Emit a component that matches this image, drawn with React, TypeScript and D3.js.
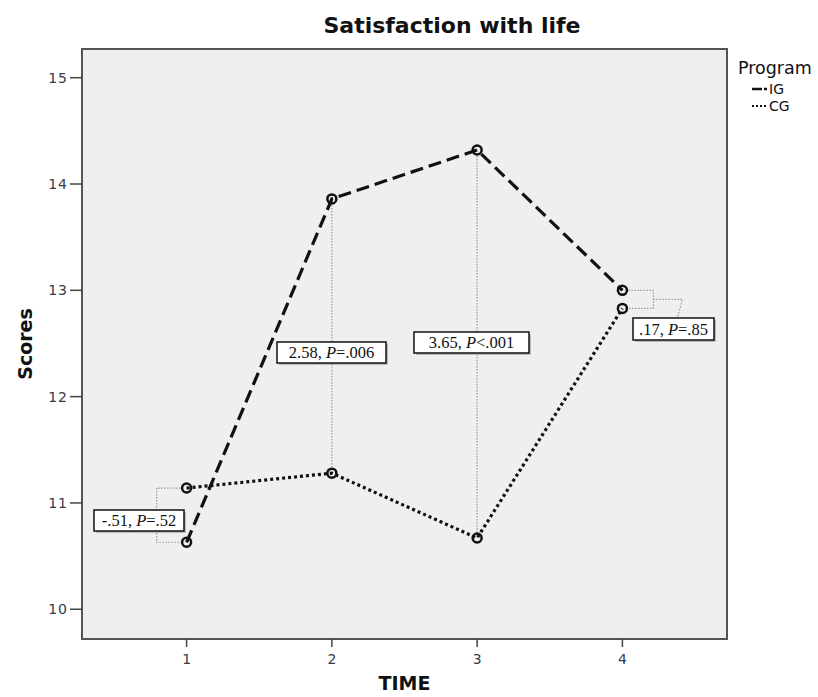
import React from "react";
import * as d3 from "d3";

const times = [1, 2, 3, 4];
const igScores = [10.63, 13.86, 14.32, 13.0];
const cgScores = [11.14, 11.28, 10.67, 12.83];
const yTicks = [10, 11, 12, 13, 14, 15];
const diffValues = ["-.51", "2.58", "3.65", ".17"];
const pOps = ["=", "=", "<", "="];
const pValues = [".52", ".006", ".001", ".85"];

const W = 818;
const H = 697;
const left = 82, right = 727, top = 49, bottom = 639;

// box layout (pixel anchors)
const boxLayout = [
  { x: 94, y: 510, w: 90, h: 21 },
  { x: 277, y: 342, w: 109, h: 21 },
  { x: 414, y: 332, w: 115, h: 21 },
  { x: 633, y: 318, w: 81, h: 22 },
];

export default function App() {
  const x = d3.scaleLinear().domain([0.28, 4.72]).range([left, right]);
  const y = d3.scaleLinear().domain([9.72, 15.27]).range([bottom, top]);
  const line = d3
    .line<number>()
    .x((_, i) => x(times[i]))
    .y((d) => y(d));

  const sans = "'DejaVu Sans', Verdana, sans-serif";
  const serif = "'Liberation Serif', 'Times New Roman', serif";

  return (
    <svg width={W} height={H} style={{ display: "block", position: "absolute", left: 0, top: 0 }}>
      <rect width={W} height={H} fill="#ffffff" />
      {/* title */}
      <text x={452} y={33} textAnchor="middle" fontFamily={sans} fontWeight="bold" fontSize={22} fill="#111">
        Satisfaction with life
      </text>
      {/* plot frame */}
      <rect x={left + 1} y={top + 1} width={right - left} height={bottom - top} fill="#bbb" />
      <rect x={left} y={top} width={right - left} height={bottom - top} fill="#efefef" stroke="#555" strokeWidth={2} />

      {/* y axis ticks */}
      {yTicks.map((t) => (
        <g key={"y" + t}>
          <line x1={left - 12} x2={left} y1={y(t)} y2={y(t)} stroke="#444" strokeWidth={1.5} />
          <text x={left - 14} y={y(t) + 5} textAnchor="end" fontFamily={sans} fontSize={14} letterSpacing={1} fill="#3a3a4a">
            {t}
          </text>
        </g>
      ))}
      {/* x axis ticks */}
      {times.map((t) => (
        <g key={"x" + t}>
          <line x1={x(t)} x2={x(t)} y1={bottom} y2={bottom + 8} stroke="#444" strokeWidth={1.5} />
          <text x={x(t)} y={bottom + 25} textAnchor="middle" fontFamily={sans} fontSize={14} fill="#3a3a4a">
            {t}
          </text>
        </g>
      ))}
      <text x={(left + right) / 2} y={690} textAnchor="middle" fontFamily={sans} fontWeight="bold" fontSize={19} fill="#111">
        TIME
      </text>
      <text
        transform={`translate(32, ${(top + bottom) / 2}) rotate(-90)`}
        textAnchor="middle"
        fontFamily={sans}
        fontWeight="bold"
        fontSize={19}
        fill="#111"
      >
        Scores
      </text>

      {/* connector lines (dotted gray) */}
      {(() => {
        const bx = x(1) - 30;
        return (
          <path
            d={`M${x(1) - 6},${y(cgScores[0])} H${bx} V${y(igScores[0])} H${x(1) - 6}`}
            fill="none"
            stroke="#999"
            strokeWidth={1.2}
            strokeDasharray="1.5,1.5"
          />
        );
      })()}
      {[1, 2].map((i) => (
        <line
          key={"v" + i}
          x1={x(times[i])}
          x2={x(times[i])}
          y1={y(igScores[i]) + 6}
          y2={y(cgScores[i]) - 6}
          stroke="#999"
          strokeWidth={1.2}
          strokeDasharray="1.5,1.5"
        />
      ))}
      {(() => {
        const bx = x(4) + 31;
        const midY = (y(igScores[3]) + y(cgScores[3])) / 2;
        return (
          <path
            d={`M${x(4) + 6},${y(igScores[3])} H${bx} V${y(cgScores[3])} H${x(4) + 6} M${bx},${midY} H${bx + 29} L${bx + 24},${boxLayout[3].y}`}
            fill="none"
            stroke="#999"
            strokeWidth={1.2}
            strokeDasharray="1.5,1.5"
          />
        );
      })()}

      {/* series lines */}
      <path d={line(igScores) || ""} fill="none" stroke="#111" strokeWidth={3.2} strokeDasharray="13,6" />
      <path d={line(cgScores) || ""} fill="none" stroke="#111" strokeWidth={3.2} strokeDasharray="3,3" />
      {[igScores, cgScores].map((s, si) =>
        s.map((v, i) => (
          <circle key={`c${si}-${i}`} cx={x(times[i])} cy={y(v)} r={4.5} fill="none" stroke="#111" strokeWidth={2.5} />
        ))
      )}

      {/* annotation boxes */}
      {boxLayout.map((b, i) => (
        <g key={"b" + i}>
          <rect x={b.x + 2} y={b.y + 2} width={b.w} height={b.h} fill="#999" opacity={0.6} />
          <rect x={b.x} y={b.y} width={b.w} height={b.h} fill="#fff" stroke="#111" strokeWidth={1.5} />
          <text x={b.x + b.w / 2} y={b.y + b.h / 2 + 5.5} textAnchor="middle" fontFamily={serif} fontSize={16.5} fill="#111">
            {diffValues[i]}, <tspan fontStyle="italic">P</tspan>
            {pOps[i]}
            {pValues[i]}
          </text>
        </g>
      ))}

      {/* legend */}
      <text x={738} y={74} fontFamily={sans} fontSize={17.5} fill="#111">
        Program
      </text>
      <line x1={752} x2={762} y1={89} y2={89} stroke="#111" strokeWidth={2.5} />
      <line x1={764} x2={767} y1={89} y2={89} stroke="#111" strokeWidth={2.5} />
      <text x={769} y={94} fontFamily={sans} fontSize={14} fill="#111">
        IG
      </text>
      <line x1={752} x2={767} y1={106} y2={106} stroke="#111" strokeWidth={2} strokeDasharray="2,2" />
      <text x={769} y={111} fontFamily={sans} fontSize={14} fill="#111">
        CG
      </text>
    </svg>
  );
}
